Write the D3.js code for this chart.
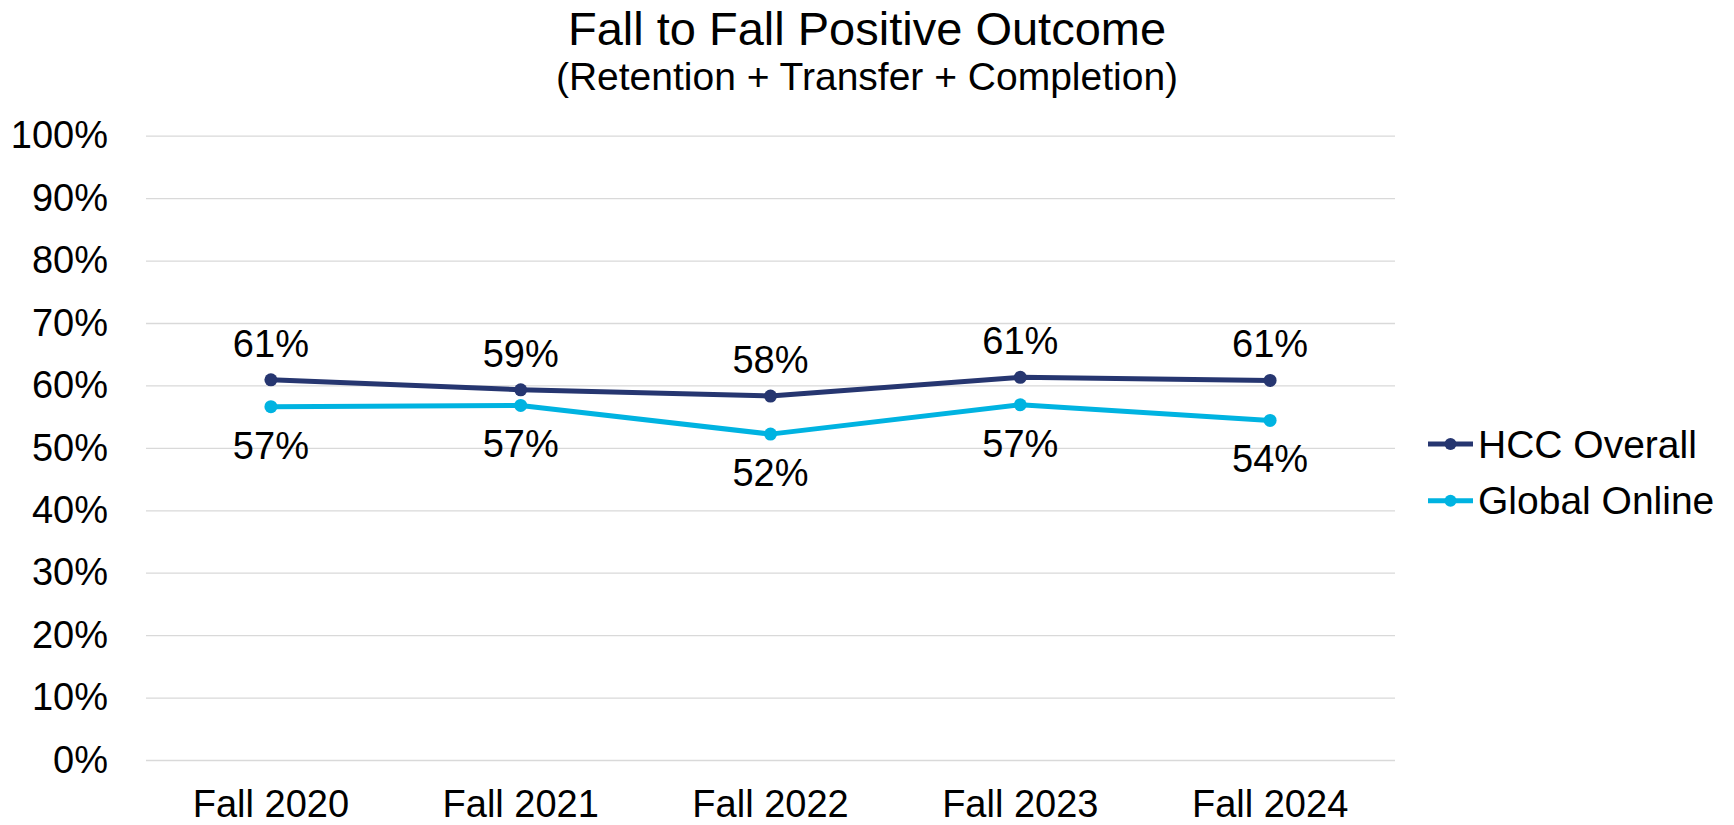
<!DOCTYPE html>
<html>
<head>
<meta charset="utf-8">
<script src="https://cdn.jsdelivr.net/npm/d3@7"></script>
<style>
    body { margin: 0; background: #fff; }
    svg { display: block; font-family: "Liberation Sans", Arial, sans-serif; }
</style>
</head>
<body>
<script>
// Data
const categories = ["Fall 2020", "Fall 2021", "Fall 2022", "Fall 2023", "Fall 2024"];
const hccOverall = [0.609, 0.593, 0.583, 0.613, 0.608];
const globalOnline = [0.566, 0.568, 0.522, 0.569, 0.544];
const yTicks = [0, 0.1, 0.2, 0.3, 0.4, 0.5, 0.6, 0.7, 0.8, 0.9, 1.0];
const seriesNames = ["HCC Overall", "Global Online"];

const width = 1734;
const height = 825;
const plot = {left: 146, right: 1395, top: 135.7, bottom: 760};
const colors = ["#263670", "#00b3e1"];
const fontSize = 38;

const svg = d3.select("body").append("svg")
    .attr("width", width)
    .attr("height", height);

const x = d3.scaleBand().domain(categories).range([plot.left, plot.right]);
const y = d3.scaleLinear().domain([0, 1]).range([plot.bottom, plot.top]);

// Title
svg.append("text")
    .attr("x", width / 2)
    .attr("y", 45)
    .attr("text-anchor", "middle")
    .attr("font-size", 47)
    .text("Fall to Fall Positive Outcome");

svg.append("text")
    .attr("x", width / 2)
    .attr("y", 90)
    .attr("text-anchor", "middle")
    .attr("font-size", 39)
    .text("(Retention + Transfer + Completion)");

// Y axis with gridlines
const yAxis = svg.append("g")
    .attr("transform", `translate(${plot.left},0)`)
    .call(d3.axisLeft(y)
        .tickValues(yTicks)
        .tickFormat(d3.format(".0%"))
        .tickSize(-(plot.right - plot.left))
        .tickPadding(38));
yAxis.select(".domain").remove();
yAxis.selectAll(".tick line")
    .attr("stroke", "#d9d9d9")
    .attr("stroke-width", 1.3);
yAxis.selectAll(".tick text")
    .attr("font-size", fontSize)
    .attr("font-family", "Liberation Sans, Arial, sans-serif")
    .attr("fill", "#000");

// X axis
const xAxis = svg.append("g")
    .attr("transform", `translate(0,${plot.bottom})`)
    .call(d3.axisBottom(x).tickSize(0).tickPadding(30));
xAxis.select(".domain").remove();
xAxis.selectAll(".tick text")
    .attr("font-size", fontSize)
    .attr("font-family", "Liberation Sans, Arial, sans-serif")
    .attr("fill", "#000");

const cx = (d, i) => x(categories[i]) + x.bandwidth() / 2;
const line = d3.line().x(cx).y((d) => y(d));
const pct = (v) => Math.round(v * 100) + "%";

const series = [hccOverall, globalOnline];

series.forEach((values, s) => {
    const g = svg.append("g");
    g.append("path")
        .datum(values)
        .attr("fill", "none")
        .attr("stroke", colors[s])
        .attr("stroke-width", 5)
        .attr("stroke-linejoin", "round")
        .attr("d", line);

    g.selectAll("circle")
        .data(values)
        .enter()
        .append("circle")
        .attr("cx", cx)
        .attr("cy", (d) => y(d))
        .attr("r", 6.5)
        .attr("fill", colors[s]);

    // Data labels: HCC above, Global Online below
    g.selectAll("text")
        .data(values)
        .enter()
        .append("text")
        .attr("x", cx)
        .attr("y", (d) => s === 0 ? y(d) - 23 : y(d) + 52)
        .attr("text-anchor", "middle")
        .attr("font-size", fontSize)
        .text(pct);
});

// Legend
const legendY = [444, 500.7];
const legend = svg.append("g");
seriesNames.forEach((name, s) => {
    legend.append("line")
        .attr("x1", 1428).attr("x2", 1473)
        .attr("y1", legendY[s]).attr("y2", legendY[s])
        .attr("stroke", colors[s])
        .attr("stroke-width", 5);
    legend.append("circle")
        .attr("cx", 1450.5)
        .attr("cy", legendY[s])
        .attr("r", 6)
        .attr("fill", colors[s]);
    legend.append("text")
        .attr("x", 1478)
        .attr("y", legendY[s])
        .attr("dy", "0.35em")
        .attr("font-size", 39)
        .text(name);
});
</script>
</body>
</html>
